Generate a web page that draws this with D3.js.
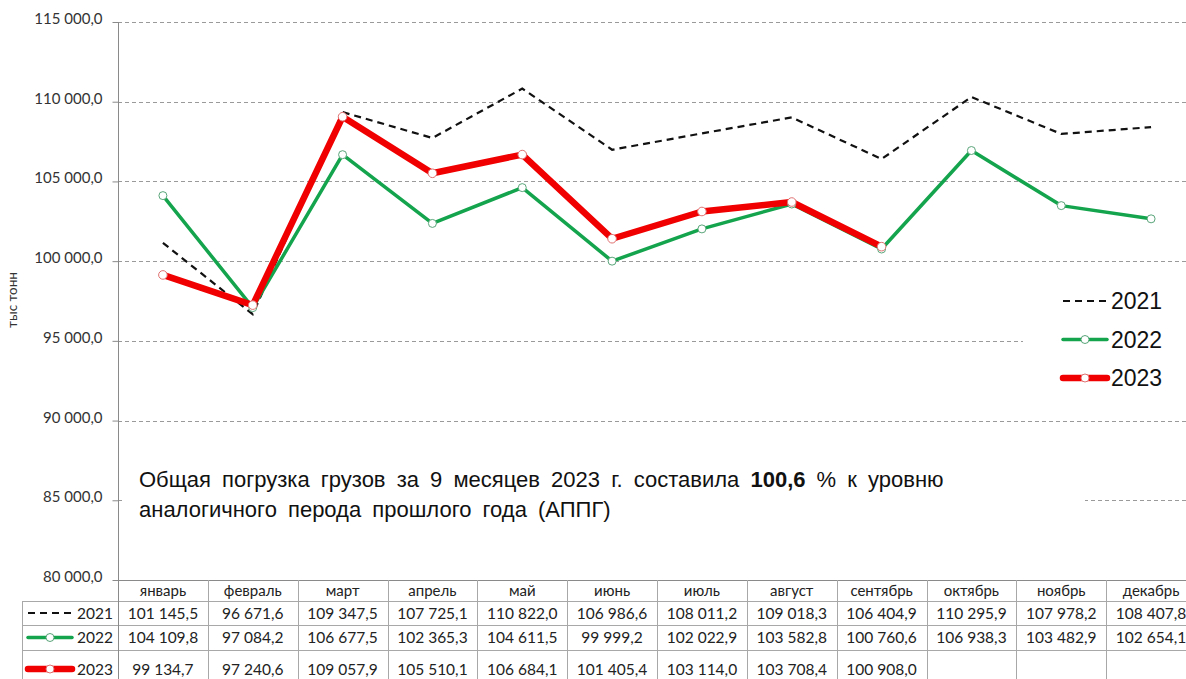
<!DOCTYPE html>
<html>
<head>
<meta charset="utf-8">
<script src="https://cdn.jsdelivr.net/npm/d3@7"></script>
<style>
    body { margin: 0; background: #fff; }
    svg { display: block; }
</style>
</head>
<body>
<div id="chart"></div>
<script>
// данные (тыс тонн)
let months = ['январь', 'февраль', 'март', 'апрель', 'май', 'июнь', 'июль', 'август', 'сентябрь', 'октябрь', 'ноябрь', 'декабрь'];
let values2021 = [101145.5, 96671.6, 109347.5, 107725.1, 110822.0, 106986.6, 108011.2, 109018.3, 106404.9, 110295.9, 107978.2, 108407.8];
let values2022 = [104109.8, 97084.2, 106677.5, 102365.3, 104611.5, 99999.2, 102022.9, 103582.8, 100760.6, 106938.3, 103482.9, 102654.1];
let values2023 = [99134.7, 97240.6, 109057.9, 105510.1, 106684.1, 101405.4, 103114.0, 103708.4, 100908.0];
let yTicks = [80000, 85000, 90000, 95000, 100000, 105000, 110000, 115000];
let seriesNames = ['2021', '2022', '2023'];

let width = 1186,
    height = 679,
    plotLeft = 118,
    plotRight = 1196,
    plotTop = 22,
    plotBottom = 580;

let green = '#14a44d',
    red = '#f00000',
    gridColor = '#9a9a9a',
    tableColor = '#a8a8a8',
    cellFont = 'Lato, "Open Sans", sans-serif',
    textFont = '"Liberation Sans", Arial, sans-serif';

// форматирование: 101 145,5
let fmt = function(v) {
    let s = v.toFixed(1).split('.');
    return s[0].replace(/\B(?=(\d{3})+(?!\d))/g, ' ') + ',' + s[1];
};

let svg = d3.select('#chart')
    .append('svg')
    .attr('width', width)
    .attr('height', height);

let xScale = d3.scaleBand()
    .domain(months)
    .range([plotLeft, plotRight]);
let yScale = d3.scaleLinear()
    .domain([80000, 115000])
    .range([plotBottom, plotTop]);

// сетка
svg.append('g')
    .selectAll('line.grid')
    .data(yTicks.filter(d => d > 80000))
    .enter()
    .append('line')
    .attr('class', 'grid')
    .attr('x1', plotLeft)
    .attr('x2', width)
    .attr('y1', d => Math.round(yScale(d)) + 0.5)
    .attr('y2', d => Math.round(yScale(d)) + 0.5)
    .attr('stroke', gridColor)
    .attr('stroke-width', 1)
    .attr('stroke-dasharray', '4,3');

// ось Y
let yAxis = d3.axisLeft(yScale)
    .tickValues(yTicks)
    .tickSize(6)
    .tickPadding(10)
    .tickFormat(d => fmt(d));
let yAxisG = svg.append('g')
    .attr('transform', 'translate(' + (plotLeft + 0.5) + ',0)')
    .call(yAxis);
yAxisG.select('.domain')
    .attr('stroke', '#8a8a8a')
    .attr('d', 'M0,' + plotTop + 'V' + plotBottom);
yAxisG.selectAll('.tick line').attr('stroke', '#8a8a8a');
yAxisG.selectAll('.tick text')
    .style('font-family', cellFont)
    .style('font-size', '15px')
    .attr('fill', '#333')
    .attr('dy', '0.1em');

svg.append('text')
    .attr('transform', 'translate(17,' + 300 + ') rotate(-90)')
    .attr('text-anchor', 'middle')
    .style('font-family', cellFont)
    .style('font-size', '13.5px')
    .attr('fill', '#333')
    .text('тыс тонн');

// белые подложки легенды и подписи
svg.append('rect')
    .attr('x', 1023).attr('y', 272)
    .attr('width', 170).attr('height', 125)
    .attr('fill', '#fff');
svg.append('rect')
    .attr('x', 125).attr('y', 452)
    .attr('width', 960).attr('height', 78)
    .attr('fill', '#fff');

// линии
let line = d3.line()
    .x((d, i) => xScale(months[i]) + xScale.bandwidth() / 2)
    .y(d => yScale(d));

svg.append('path')
    .datum(values2021)
    .attr('d', line)
    .attr('fill', 'none')
    .attr('stroke', '#111')
    .attr('stroke-width', 2.2)
    .attr('stroke-dasharray', '7,5');

svg.append('path')
    .datum(values2022)
    .attr('d', line)
    .attr('fill', 'none')
    .attr('stroke', green)
    .attr('stroke-width', 3.5)
    .attr('stroke-linejoin', 'round');

svg.append('path')
    .datum(values2023)
    .attr('d', line)
    .attr('fill', 'none')
    .attr('stroke', red)
    .attr('stroke-width', 6.5)
    .attr('stroke-linejoin', 'round');

svg.selectAll('circle.m2022')
    .data(values2022)
    .enter()
    .append('circle')
    .attr('class', 'm2022')
    .attr('cx', (d, i) => xScale(months[i]) + xScale.bandwidth() / 2)
    .attr('cy', d => yScale(d))
    .attr('r', 4)
    .attr('fill', '#fff')
    .attr('stroke', '#5aa57a')
    .attr('stroke-width', 1);

svg.selectAll('circle.m2023')
    .data(values2023)
    .enter()
    .append('circle')
    .attr('class', 'm2023')
    .attr('cx', (d, i) => xScale(months[i]) + xScale.bandwidth() / 2)
    .attr('cy', d => yScale(d))
    .attr('r', 4.3)
    .attr('fill', '#fff')
    .attr('stroke', '#e07070')
    .attr('stroke-width', 1);

// образцы линий для легенды и таблицы
function drawKey(g, name, x1, x2, y) {
    if (name === '2021') {
        g.append('line')
            .attr('x1', x1).attr('x2', x2).attr('y1', y).attr('y2', y)
            .attr('stroke', '#111')
            .attr('stroke-width', 2.2)
            .attr('stroke-dasharray', '7,5');
    } else {
        g.append('line')
            .attr('x1', x1).attr('x2', x2).attr('y1', y).attr('y2', y)
            .attr('stroke', name === '2022' ? green : red)
            .attr('stroke-width', name === '2022' ? 3.5 : 6.5)
            .attr('stroke-linecap', 'round');
        g.append('circle')
            .attr('cx', (x1 + x2) / 2).attr('cy', y).attr('r', 4)
            .attr('fill', '#fff')
            .attr('stroke', name === '2022' ? '#5aa57a' : '#e07070');
    }
}

// легенда
let legend = svg.append('g');
seriesNames.forEach(function(name, i) {
    let y = 301 + i * 38.5;
    drawKey(legend, name, 1063, 1107, y);
    legend.append('text')
        .attr('x', 1111)
        .attr('y', y)
        .attr('dy', '0.36em')
        .style('font-family', textFont)
        .style('font-size', '23px')
        .attr('fill', '#111')
        .text(name);
});

// подпись
let note = svg.append('text')
    .style('font-family', textFont)
    .style('font-size', '22px')
    .style('word-spacing', '5px')
    .attr('fill', '#111');
let noteLine1 = note.append('tspan').attr('x', 139).attr('y', 487);
noteLine1.append('tspan').text('Общая погрузка грузов за 9 месяцев 2023 г. составила ');
noteLine1.append('tspan').style('font-weight', 'bold').text('100,6');
noteLine1.append('tspan').text(' % к уровню');
note.append('tspan').attr('x', 139).attr('y', 517).text('аналогичного перода прошлого года (АППГ)');

// таблица данных
let table = svg.append('g');
let rowY = [580, 601, 625, 650, 690];
let rowCenters = [613, 637.5, 669];
let tableLeft = 22;

// горизонтальные линии
table.append('line')
    .attr('x1', plotLeft).attr('x2', width)
    .attr('y1', rowY[0] + 0.5).attr('y2', rowY[0] + 0.5)
    .attr('stroke', '#8a8a8a');
rowY.slice(1).forEach(function(y) {
    table.append('line')
        .attr('x1', tableLeft).attr('x2', width)
        .attr('y1', y + 0.5).attr('y2', y + 0.5)
        .attr('stroke', tableColor);
});
// вертикальные линии
months.forEach(function(m) {
    let x = Math.round(xScale(m)) + 0.5;
    table.append('line')
        .attr('x1', x).attr('x2', x)
        .attr('y1', rowY[0]).attr('y2', height)
        .attr('stroke', x < plotLeft + 1 ? '#8a8a8a' : tableColor);
});
table.append('line')
    .attr('x1', tableLeft + 0.5).attr('x2', tableLeft + 0.5)
    .attr('y1', rowY[1]).attr('y2', height)
    .attr('stroke', tableColor);

// заголовки месяцев
table.selectAll('text.month')
    .data(months)
    .enter()
    .append('text')
    .attr('class', 'month')
    .attr('x', d => xScale(d) + xScale.bandwidth() / 2)
    .attr('y', (rowY[0] + rowY[1]) / 2)
    .attr('dy', '0.35em')
    .attr('text-anchor', 'middle')
    .style('font-family', cellFont)
    .style('font-size', '15px')
    .attr('fill', '#222')
    .text(d => d);

[values2021, values2022, values2023].forEach(function(vals, r) {
    let cy = rowCenters[r];
    drawKey(table, seriesNames[r], 28, 72, cy);
    table.append('text')
        .attr('x', 113)
        .attr('y', cy)
        .attr('dy', '0.36em')
        .attr('text-anchor', 'end')
        .style('font-family', cellFont)
        .style('font-size', '15.5px')
        .attr('fill', '#222')
        .text(seriesNames[r]);
    table.selectAll('text.v' + r)
        .data(vals)
        .enter()
        .append('text')
        .attr('class', 'v' + r)
        .attr('x', (d, i) => xScale(months[i]) + xScale.bandwidth() / 2)
        .attr('y', cy)
        .attr('dy', '0.36em')
        .attr('text-anchor', 'middle')
        .style('font-family', cellFont)
        .style('font-size', '15.5px')
        .attr('fill', '#222')
        .text(d => fmt(d));
});
</script>
</body>
</html>
